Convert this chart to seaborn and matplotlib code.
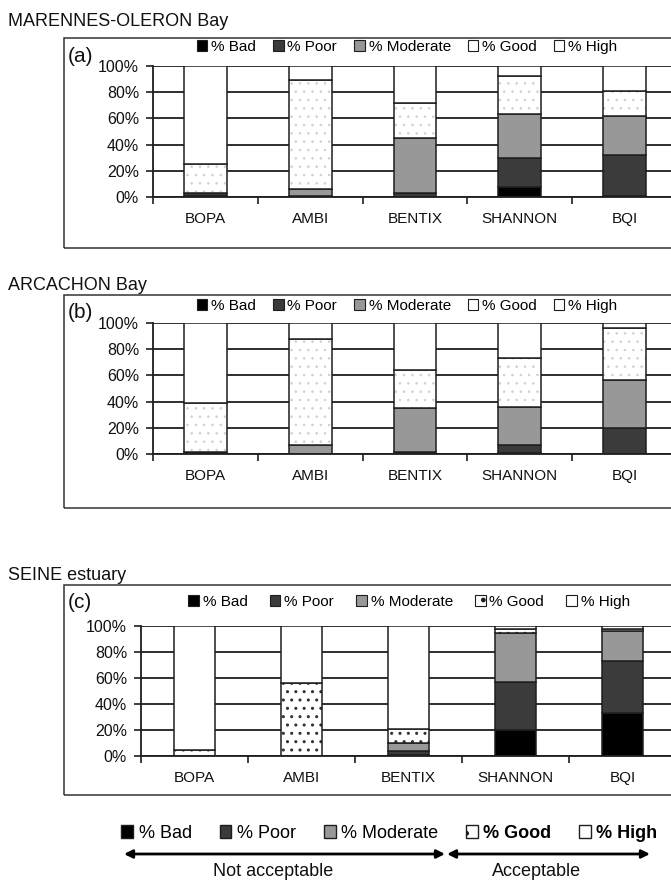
import numpy as np
import matplotlib
matplotlib.use("Agg")
import matplotlib.pyplot as plt
import seaborn as sns
from matplotlib.patches import Patch, Rectangle, FancyArrowPatch

# ---------------- data ----------------
indices = ["BOPA", "AMBI", "BENTIX", "SHANNON", "BQI"]
classes = ["% Bad", "% Poor", "% Moderate", "% Good", "% High"]
panel_titles = ["MARENNES-OLERON Bay", "ARCACHON Bay", "SEINE estuary"]
panel_tags = ["(a)", "(b)", "(c)"]
y_ticks = [0, 20, 40, 60, 80, 100]
y_tick_labels = ["0%", "20%", "40%", "60%", "80%", "100%"]

marennes_bad = [1, 1, 0, 8, 1]
marennes_poor = [2, 0, 3, 22, 31]
marennes_moderate = [0, 5, 42, 33, 30]
marennes_good = [22, 83, 27, 29, 19]
marennes_high = [75, 11, 28, 8, 19]

arcachon_bad = [0, 0, 0, 1, 0]
arcachon_poor = [1.5, 0, 1.5, 6, 19.5]
arcachon_moderate = [0, 7, 33.5, 29, 37]
arcachon_good = [37.5, 80.5, 29, 37, 40]
arcachon_high = [61, 12.5, 36, 27, 3.5]

seine_bad = [0, 0, 1, 20, 33]
seine_poor = [0, 0, 3, 37, 40]
seine_moderate = [0, 0, 6, 38, 23]
seine_good = [5, 56, 11, 3, 1.5]
seine_high = [95, 44, 79, 2, 2.5]

bottom_legend_labels = ["% Bad", "% Poor", "% Moderate", "% Good", "% High"]
range_labels = ["Not acceptable", "Acceptable"]

panels = [
    [marennes_bad, marennes_poor, marennes_moderate, marennes_good, marennes_high],
    [arcachon_bad, arcachon_poor, arcachon_moderate, arcachon_good, arcachon_high],
    [seine_bad, seine_poor, seine_moderate, seine_good, seine_high],
]

# ---------------- style ----------------
plt.rcParams["font.family"] = ["Liberation Sans", "DejaVu Sans"]
class_colors = ["#000000", "#3b3b3b", "#989898", "#ffffff", "#ffffff"]
EDGE = "#1e1e1e"

W, H = 671, 881
fig = plt.figure(figsize=(W / 100, H / 100), dpi=100)


def fx(x):
    return x / W


def fy(y):
    return 1 - y / H


# pixel layout per panel
layout = [
    dict(ax_left=153, ax_right=677, ax_top=66, ax_bot=197, frame=(64, 38, 248),
         title_y=22, tag=(68, 56), leg=(407, 47), colsp=1.1, dot="#d0d0d0",
         hlw=0.6, bw=0.41),
    dict(ax_left=153, ax_right=677, ax_top=323, ax_bot=454, frame=(64, 295, 508),
         title_y=285, tag=(68, 313), leg=(407, 306), colsp=1.1, dot="#d0d0d0",
         hlw=0.6, bw=0.41),
    dict(ax_left=141, ax_right=676, ax_top=626, ax_bot=756, frame=(64, 585, 795),
         title_y=575, tag=(68, 602), leg=(409, 602), colsp=1.45, dot="#303030",
         hlw=1.0, bw=0.39),
]

for data, title, tag, L in zip(panels, panel_titles, panel_tags, layout):
    ax = fig.add_axes([fx(L["ax_left"]), fy(L["ax_bot"]),
                       (L["ax_right"] - L["ax_left"]) / W,
                       (L["ax_bot"] - L["ax_top"]) / H])
    plt.rcParams["hatch.linewidth"] = L["hlw"]
    bottom = np.zeros(len(indices))
    for cls, vals, col in zip(classes, data, class_colors):
        vals = np.asarray(vals, dtype=float)
        if cls == "% Good":
            sns.barplot(x=indices, y=vals, bottom=bottom, color="white",
                        edgecolor=L["dot"], linewidth=0, hatch="..",
                        width=L["bw"], errorbar=None, saturation=1, ax=ax)
            sns.barplot(x=indices, y=vals, bottom=bottom, fill=False,
                        color=EDGE, linewidth=1.1, width=L["bw"],
                        errorbar=None, ax=ax)
        else:
            sns.barplot(x=indices, y=vals, bottom=bottom, color=col,
                        edgecolor=EDGE, linewidth=1.1, width=L["bw"],
                        errorbar=None, saturation=1, ax=ax)
        bottom = bottom + vals

    ax.set_xlim(-0.5, len(indices) - 0.5)
    ax.set_ylim(0, 100)
    ax.set_yticks(y_ticks, y_tick_labels)
    ax.set_xticks(np.arange(-0.5, len(indices), 1.0), minor=True)
    ax.set_xlabel("")
    ax.set_ylabel("")
    ax.set_axisbelow(True)
    ax.yaxis.grid(True, color=EDGE, linewidth=1.3)
    ax.xaxis.grid(False)
    for s in ["top", "right"]:
        ax.spines[s].set_visible(False)
    for s in ["left", "bottom"]:
        ax.spines[s].set_color(EDGE)
        ax.spines[s].set_linewidth(1.3)
    ax.tick_params(axis="y", length=5, width=1.2, color=EDGE, pad=5,
                   labelsize=11.5, labelcolor="#111")
    ax.tick_params(axis="x", which="major", length=0, pad=11, labelsize=11,
                   labelcolor="#111")
    ax.tick_params(axis="x", which="minor", length=5, width=1.2, color=EDGE)
    ax.set_facecolor("white")

    # panel legend
    handles = []
    for i, col in enumerate(class_colors):
        handles.append(Patch(facecolor=col, edgecolor=EDGE, linewidth=0.8,
                             hatch="." if (i == 3 and tag == "(c)") else None))
    ax.legend(handles, classes, loc="center",
              bbox_to_anchor=(fx(L["leg"][0]), fy(L["leg"][1])),
              bbox_transform=fig.transFigure, ncol=5, frameon=False,
              fontsize=11, handlelength=0.7, handleheight=0.7,
              handletextpad=0.25, columnspacing=L["colsp"], borderpad=0,
              borderaxespad=0)

    # chart-area frame
    fl, ft, fb = L["frame"]
    fig.add_artist(Rectangle((fx(fl), fy(fb)), (W + 40 - fl) / W, (fb - ft) / H,
                             transform=fig.transFigure, fill=False,
                             edgecolor="#333333", linewidth=1.1, zorder=0))
    fig.text(fx(8), fy(L["title_y"]), title, fontsize=13, ha="left",
             va="center", color="#111")
    fig.text(fx(L["tag"][0]), fy(L["tag"][1]), tag, fontsize=15, ha="left",
             va="center", color="#111")

# ---------------- bottom legend ----------------
plt.rcParams["hatch.linewidth"] = 1.0
bh = []
for i, col in enumerate(class_colors):
    bh.append(Patch(facecolor=col, edgecolor=EDGE, linewidth=1.0,
                    hatch="." if i == 3 else None))
bleg = fig.legend(bh, bottom_legend_labels, loc="center",
                  bbox_to_anchor=(fx((122 + 657) / 2), fy(833)),
                  bbox_transform=fig.transFigure, ncol=5, frameon=False,
                  fontsize=13, handlelength=0.65, handleheight=0.7,
                  handletextpad=0.3, columnspacing=1.55, borderpad=0,
                  borderaxespad=0)
for t in bleg.get_texts()[3:]:
    t.set_fontweight("bold")

for (x0, x1) in [(124, 445), (447, 650)]:
    fig.add_artist(FancyArrowPatch((fx(x0), fy(854)), (fx(x1), fy(854)),
                                   transform=fig.transFigure,
                                   arrowstyle="<|-|>", mutation_scale=12,
                                   linewidth=2, color="black",
                                   shrinkA=0, shrinkB=0))
fig.text(fx(273), fy(871), range_labels[0], fontsize=13, ha="center",
         va="center", color="#111")
fig.text(fx(537), fy(871), range_labels[1], fontsize=13, ha="center",
         va="center", color="#111")

fig.savefig("out.png", dpi=100, facecolor="white")
